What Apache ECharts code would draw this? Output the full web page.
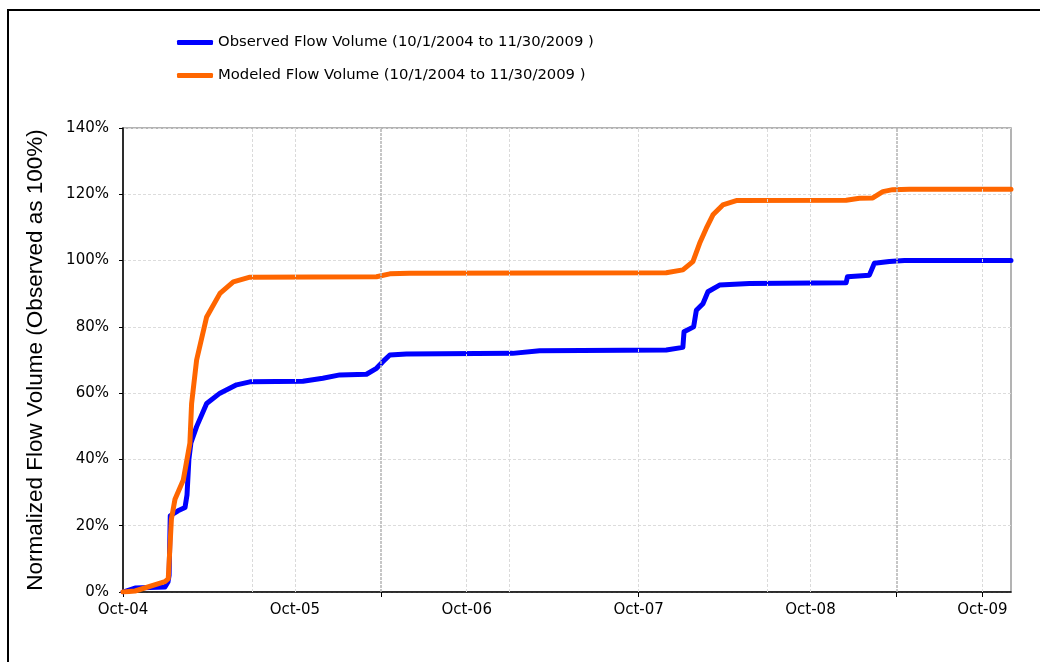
<!DOCTYPE html>
<html>
<head>
<meta charset="utf-8">
<script src="https://cdn.jsdelivr.net/npm/echarts@6/dist/echarts.min.js"></script>
<style>html,body{margin:0;padding:0;background:#fff;}#c{width:1040px;height:662px;}</style>
</head>
<body>
<div id="c"></div>
<script>
// x values: months since 1 Oct 2004; y values: percent of observed total
var observedMonths = [0, 0.84, 2.93, 3.14, 3.22, 3.3, 3.84, 4.33, 4.47, 4.6, 4.74, 5.14, 5.84, 6.77, 7.93, 8.86, 12.56, 13.95, 15.14, 17.0, 17.7, 18.14, 18.63, 19.79, 27.2, 29.09, 37.93, 39.09, 39.17, 39.84, 40.03, 40.49, 40.84, 41.65, 43.74, 50.49, 50.58, 52.11, 52.46, 53.51, 54.56, 62];
var observedValues = [0, 1.2, 1.5, 3.0, 5, 23, 24.5, 25.5, 29.3, 40, 45, 49.9, 56.9, 60, 62.5, 63.4, 63.6, 64.5, 65.5, 65.7, 67.5, 69.5, 71.5, 71.8, 72.0, 72.8, 73.0, 73.8, 78.5, 80, 85, 87, 90.6, 92.6, 93.1, 93.3, 95.1, 95.6, 99.2, 99.7, 100, 100];
var modeledMonths = [0, 0.84, 2.93, 3.16, 3.38, 3.63, 4.21, 4.67, 4.79, 5.14, 5.84, 6.77, 7.7, 8.86, 17.7, 18.63, 20.0, 37.93, 39.09, 39.79, 40.26, 40.72, 41.19, 41.88, 42.82, 50.49, 51.42, 52.35, 53.05, 53.74, 54.9, 62];
var modeledValues = [0, 0.3, 3.1, 4, 22, 28, 33.8, 44.9, 56.9, 70, 83, 90.1, 93.6, 95, 95.1, 96, 96.2, 96.3, 97.2, 99.7, 105.2, 109.7, 113.8, 116.8, 118.1, 118.2, 118.8, 118.9, 120.8, 121.4, 121.5, 121.5];
var xLabelMonths = [0, 12, 24, 36, 48, 60];
var xLabels = ['Oct-04', 'Oct-05', 'Oct-06', 'Oct-07', 'Oct-08', 'Oct-09'];
var xTickMonths = [0, 18, 36, 54, 60];
var minorGridMonths = [9, 12, 24, 27, 36, 45, 48, 60];
var majorGridMonths = [18, 54];
var seriesNames = ['Observed Flow Volume (10/1/2004 to 11/30/2009 )', 'Modeled Flow Volume (10/1/2004 to 11/30/2009 )'];
var yAxisName = 'Normalized Flow Volume (Observed as 100%)';

function pairs(xs, ys) { return xs.map(function (x, i) { return [x, ys[i]]; }); }

var chart = echarts.init(document.getElementById('c'), null, { renderer: 'canvas' });
var hFont = 'DejaVu Sans';
function legendFor(name, top) {
  return {
    data: [name], left: 177, top: top, padding: 0, itemWidth: 36, itemHeight: 5, icon: 'roundRect', itemGap: 0,
    textStyle: { fontFamily: hFont, fontSize: 14.8, color: '#000' }
  };
}
chart.setOption({
  animation: false,
  backgroundColor: '#fff',
  graphic: [{
    type: 'rect', silent: true, z: 100,
    shape: { x: 8, y: 10, width: 1100, height: 1000 },
    style: { fill: 'none', stroke: '#000', lineWidth: 2 }
  }],
  grid: { left: 123, right: 29, top: 128, bottom: 70, show: true, borderColor: '#9a9a9a', borderWidth: 1.5 },
  legend: [legendFor(seriesNames[0], 35), legendFor(seriesNames[1], 68)],
  xAxis: {
    type: 'value', min: 0, max: 62, interval: 6,
    axisLine: { show: true, lineStyle: { color: '#000', width: 1.5 } },
    axisTick: { show: true, inside: false, length: 5, customValues: xTickMonths, lineStyle: { color: '#000' } },
    axisLabel: {
      customValues: xLabelMonths, margin: 11, fontFamily: hFont, fontSize: 15, color: '#000',
      formatter: function (v) { var i = xLabelMonths.indexOf(v); return i >= 0 ? xLabels[i] : ''; }
    },
    splitLine: { show: false }
  },
  yAxis: {
    type: 'value', min: 0, max: 140, interval: 20,
    name: yAxisName, nameLocation: 'middle', nameGap: 76, nameRotate: 90,
    nameTextStyle: { fontFamily: 'Liberation Sans', fontSize: 22.5, color: '#000' },
    axisLine: { show: true, lineStyle: { color: '#000', width: 1.5 } },
    axisTick: { show: true, inside: false, length: 4, lineStyle: { color: '#000' } },
    axisLabel: { margin: 14, fontFamily: hFont, fontSize: 15, color: '#000', formatter: '{value}%' },
    splitLine: { show: true, lineStyle: { color: '#dcdcdc', type: [3, 2], width: 1 } }
  },
  series: [{
    type: 'line', name: '_grid', data: [], silent: true, z: 1,
    markLine: {
      silent: true, symbol: 'none', label: { show: false },
      data: minorGridMonths.map(function (m) { return { xAxis: m, lineStyle: { color: '#dadada', type: [3, 2], width: 1 } }; })
        .concat(majorGridMonths.map(function (m) { return { xAxis: m, lineStyle: { color: '#b4b4b4', type: [3, 1], width: 1.5 } }; }))
    }
  }, {
    type: 'line', name: seriesNames[0], data: pairs(observedMonths, observedValues),
    showSymbol: false, symbol: 'none', z: 3,
    lineStyle: { color: '#0000FF', width: 5, cap: 'round', join: 'round' }, itemStyle: { color: '#0000FF' }
  }, {
    type: 'line', name: seriesNames[1], data: pairs(modeledMonths, modeledValues),
    showSymbol: false, symbol: 'none', z: 4,
    lineStyle: { color: '#FF6600', width: 5, cap: 'round', join: 'round' }, itemStyle: { color: '#FF6600' }
  }]
});
</script>
</body>
</html>
